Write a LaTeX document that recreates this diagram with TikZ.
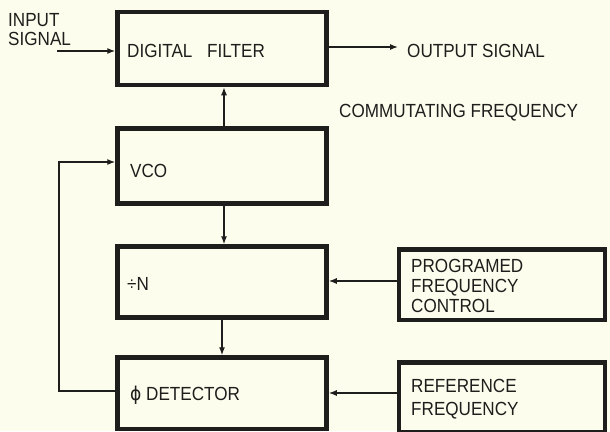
\documentclass[tikz,border=0pt]{standalone}
\usepackage{fontspec}
\setmainfont{Liberation Sans}[FakeStretch=0.9]
\newfontfamily\dvs{DejaVu Sans}[FakeStretch=0.9]
\usetikzlibrary{arrows.meta,calc}
\definecolor{paper}{RGB}{253,253,238}
\definecolor{ink}{RGB}{30,30,28}
\begin{document}
\begin{tikzpicture}[x=1pt,y=-1pt,
  blk/.style={draw=ink, line width=4.5pt, rectangle, inner sep=0pt},
  lbl/.style={anchor=base west, inner sep=0pt, text=ink, font=\fontsize{19}{22}\selectfont},
  conn/.style={draw=ink, line width=1.3pt},
  arr/.style={conn, -{Latex[length=8pt,width=6pt]}}]
\fill[paper] (0,0) rectangle (610,431);
\useasboundingbox (0,0) rectangle (610,431);
% boxes
\node[blk, minimum width=209pt, minimum height=73pt] (df) at (222,48.5) {};
\node[blk, minimum width=209pt, minimum height=75pt] (vco) at (222,166) {};
\node[blk, minimum width=209pt, minimum height=71pt] (divn) at (222,282) {};
\node[blk, minimum width=209pt, minimum height=71.5pt] (det) at (222,393.25) {};
\node[blk, minimum width=206pt, minimum height=70.5pt] (pfc) at (502,284.75) {};
\node[blk, minimum width=206pt, minimum height=70pt] (ref) at (502,397.5) {};
% labels
\node[lbl] (tin1) at (8,27) {INPUT};
\node[lbl] (tin2) at (8,45) {SIGNAL};
\node[lbl] (tdf) at (127,57) {DIGITAL\hspace{10pt} FILTER};
\node[lbl] (tout) at (407,57) {OUTPUT SIGNAL};
\node[lbl] (tcom) at (339,117) {COMMUTATING FREQUENCY};
\node[lbl] (tvco) at (130,177) {VCO};
\node[lbl] (tdiv) at (127,290) {÷N};
\node[lbl] (tdet) at (130,400) {{\dvs ϕ} DETECTOR};
\node[lbl] (tp1) at (411,272) {PROGRAMED};
\node[lbl] (tp2) at (411,292) {FREQUENCY};
\node[lbl] (tp3) at (411,312) {CONTROL};
\node[lbl] (tr1) at (411,392) {REFERENCE};
\node[lbl] (tr2) at (411,415) {FREQUENCY};
% connectors
\coordinate (inS) at (57,51);
\draw[arr] (inS) -- (inS -| df.west);
\coordinate (outE) at (398,47);
\draw[arr] (outE -| df.east) -- (outE);
\coordinate (c1) at (224,0);
\draw[arr] (vco.north -| c1) -- (df.south -| c1);
\draw[arr] (vco.south -| c1) -- (divn.north -| c1);
\coordinate (c2) at (222,0);
\draw[arr] (divn.south -| c2) -- (det.north -| c2);
\coordinate (r1) at (0,281);
\draw[arr] (pfc.west |- r1) -- (divn.east |- r1);
\coordinate (r2) at (0,393);
\draw[arr] (ref.west |- r2) -- (det.east |- r2);
\coordinate (fbL) at (59,0);
\coordinate (fbB) at (0,391);
\coordinate (fbT) at (0,162);
\draw[arr] (det.west |- fbB) -| (fbL |- fbT) -- (vco.west |- fbT);
\end{tikzpicture}
\end{document}
